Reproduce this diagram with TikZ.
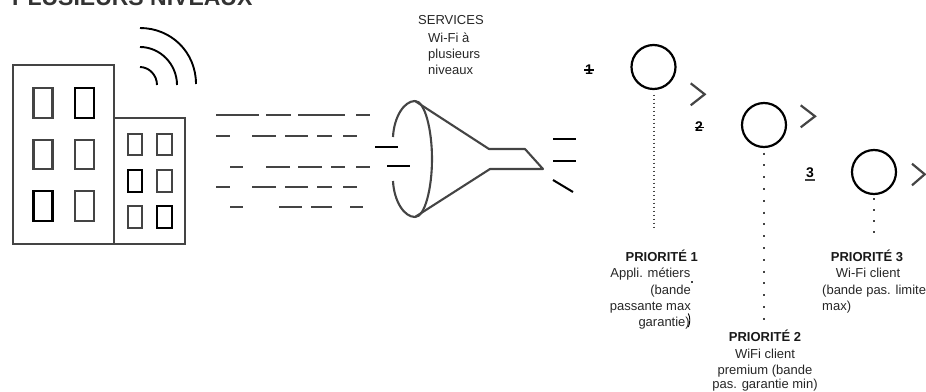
\documentclass[tikz,border=0pt]{standalone}
\usepackage{fontspec}
\setmainfont{Liberation Sans}
\definecolor{grisf}{HTML}{444444}
\tikzset{
 x=1pt,y=-1pt,
 building/.style={draw=grisf,line width=2.3pt},
 win/.style={draw=grisf,line width=2.2pt},
 winb/.style={draw=black,line width=2.2pt},
 wave/.style={draw=black,line width=1.9pt},
 flux/.style={draw=grisf,line width=2pt},
 noir/.style={draw=black,line width=2pt},
 funnel/.style={draw=grisf,line width=2.1pt,line join=round},
 rond/.style={circle,draw=black,line width=2.2pt,minimum size=44pt,inner sep=0pt},
 chevron/.style={draw=grisf,line width=2.2pt},
 pts/.style={draw=grisf,line width=2pt},
 body/.style={inner sep=0pt,font=\fontsize{13}{16.4}\selectfont,text=black!85},
 titre/.style={inner sep=0pt,font=\fontsize{13}{16.4}\selectfont\bfseries,text=black!90},
 num/.style={inner sep=0pt,font=\fontsize{14}{15}\selectfont\bfseries},
}
\begin{document}
\begin{tikzpicture}
\useasboundingbox (0,0) rectangle (926,391);
\begin{scope}
\clip (0,0) rectangle (926,391);
\node[inner sep=0pt,anchor=base west,font=\fontsize{23}{25}\selectfont\bfseries,text=black!80] (titreg) at (12,5) {PLUSIEURS NIVEAUX};
\node[body,anchor=base] (prio2c) at (765,388) {pas. garantie min)};
\end{scope}
% buildings
\draw[building] (13,65) rectangle (114,244);
\draw[building] (114,118) rectangle (185,244);
\draw[win] (33.5,88) rectangle (52.5,118);
\draw[winb] (75,88) rectangle (94,118);
\draw[win] (33.5,140) rectangle (52.5,169);
\draw[win] (75,140) rectangle (94,169);
\draw[winb] (33.5,191) rectangle (52.5,221);
\draw[win] (75,191) rectangle (94,221);
\draw[win] (128,134) rectangle (142,155);
\draw[win] (157,134) rectangle (172,155);
\draw[winb] (128,170) rectangle (142,192);
\draw[win] (157,170) rectangle (172,192);
\draw[win] (128,206) rectangle (142,228);
\draw[winb] (157,206) rectangle (172,228);
% wifi arcs
\draw[wave] (140,28) .. controls (171,28) and (196,52) .. (196,84);
\draw[wave] (140,47) .. controls (160,47) and (177,64) .. (177,85);
\draw[wave] (140,67) .. controls (149,67) and (157,75) .. (157,85);
% incoming dashes
\foreach \a/\b/\y in {216/259/115,266/291/115,298/345/115,356/370/115,
 216/230/135.5,252/276/135.5,285/308/135.5,317/332/135.5,343/357/135.5,
 230/243/166.5,266/290/166.5,298/322/166.5,331/345/166.5,356/370/166.5,
 216/230/187,252/276/187,285/308/187,317/332/187,343/357/187,
 230/243/207,279/302/207,311/332/207,350/363/207}
  \draw[flux] (\a,\y) -- (\b,\y);
\draw[noir] (375,147) -- (398,147);
\draw[noir] (387,166) -- (410,166);
% funnel
\draw[funnel] (415,101) .. controls (425,101) and (432,130) .. (432,159) .. controls (432,188) and (425,217) .. (415,217);
\draw[funnel] (393,137) .. controls (394,117) and (404,101) .. (415,101) -- (489,149) -- (525,149) -- (543,169) -- (490,169) -- (415,217) .. controls (404,217) and (394,201) .. (393,181);
% outgoing
\draw[noir] (553,138.5) -- (576,138.5);
\draw[noir] (553,160.5) -- (576,160.5);
\draw[noir] (553,180) -- (573,192);
% services
\node[body,anchor=base west] (serv) at (418,24) {SERVICES};
\node[body,anchor=base west,align=left] (wifi) at (428,42) {Wi-Fi à};
\node[body,anchor=base west] (plus) at (428,58) {plusieurs};
\node[body,anchor=base west] (niv) at (428,74.5) {niveaux};
% circles
\node[rond] (c1) at (653.5,67) {};
\node[rond] (c2) at (764,125) {};
\node[rond] (c3) at (874,172) {};
\coordinate (f1) at (653.5,229);
\coordinate (f2) at (764,320);
\coordinate (f3) at (874,241);
\draw[pts,dash pattern=on 1.8pt off 2.2pt,shorten <=4.5pt] (c1) -- (f1);
\draw[pts,dash pattern=on 2pt off 9.8pt,shorten <=4.5pt] (c2) -- (f2);
\draw[pts,dash pattern=on 2pt off 9pt,shorten <=3pt] (c3) -- (f3);
% chevrons
\draw[chevron] (690.7,83.3) -- (704.7,94.3) -- (690.7,105.3);
\draw[chevron] (800.7,105.3) -- (815,116.3) -- (800.7,127.3);
\draw[chevron] (912,163.7) -- (924.7,174.3) -- (912,185.3);
% numbers
\node[num] (n1) at (589,69.5) {1};
\node[num] (n2) at (699,127) {2};
\node[num] (n3) at (810,173) {3};
\draw[draw=black,line width=1.2pt] (584,70) -- (594,70);
\draw[draw=black,line width=1.2pt] (694.5,127.5) -- (704,127.5);
\draw[draw=grisf,line width=2.4pt] (805,180) -- (815,180);
% labels
\node[titre,anchor=base] (t1) at (661.7,261) {PRIORITÉ 1};
\node[body,anchor=base east] (l1a) at (690.5,277.5) {Appli. métiers};
\node[body,anchor=base east] (l1b) at (691,294) {(bande};
\node[body,anchor=base east] (l1c) at (691,310.5) {passante max};
\node[body,anchor=base east] (l1d) at (690,326.5) {garantie)};
\fill[grisf] (691.2,281.3) rectangle (692.6,282.7);
\draw[draw=black,line width=0.9pt] (688.3,313.5) .. controls (690.3,317) and (690.3,323) .. (688.3,327);
\node[titre,anchor=base] (t3) at (867,261) {PRIORITÉ 3};
\node[body,anchor=base] (l3a) at (868,277.5) {Wi-Fi client};
\node[body,anchor=base west] (l3b) at (822,294) {(bande pas. limite};
\node[body,anchor=base west] (l3c) at (822,310.5) {max)};
\node[titre,anchor=base] (t2) at (765,341) {PRIORITÉ 2};
\node[body,anchor=base] (l2a) at (765,358) {WiFi client};
\node[body,anchor=base] (l2b) at (765,374.5) {premium (bande};
\end{tikzpicture}
\end{document}
